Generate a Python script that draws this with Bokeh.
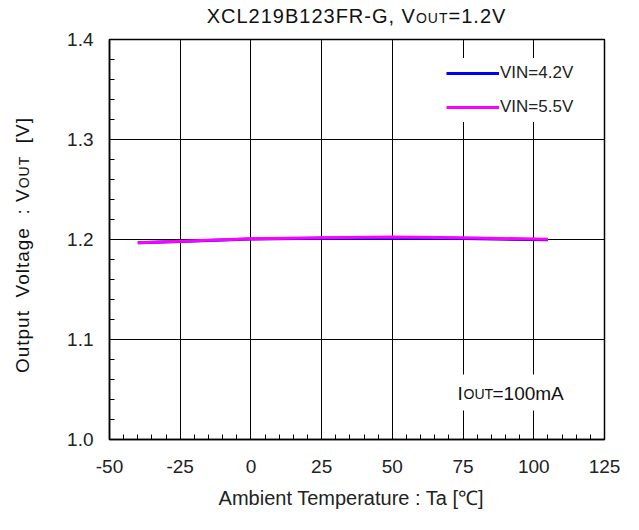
from bokeh.plotting import figure
from bokeh.models import (Range1d, FixedTicker, NumeralTickFormatter, Label,
                          Legend, LegendItem, Div)
from bokeh.layouts import column, row
from bokeh.embed import file_html
from bokeh.resources import INLINE

# ---- data ----
temps = [-40, -25, 0, 25, 50, 75, 105]
vout_vin42 = [1.1967, 1.1980, 1.2004, 1.2012, 1.2015, 1.2010, 1.1998]
vout_vin55 = [1.1967, 1.1982, 1.2007, 1.2017, 1.2025, 1.2017, 1.2002]
series_names = ["VIN=4.2V", "VIN=5.5V"]
series_colors = ["#0000FF", "#FF00FF"]
x_ticks = [-50, -25, 0, 25, 50, 75, 100, 125]
x_minor = [-45, -40, -35, -30, -20, -15, -10, -5, 5, 10, 15, 20, 30, 35, 40, 45,
           55, 60, 65, 70, 80, 85, 90, 95, 105, 110, 115, 120]
y_ticks = [1.0, 1.1, 1.2, 1.3, 1.4]
y_minor = [1.02, 1.04, 1.06, 1.08, 1.12, 1.14, 1.16, 1.18, 1.22, 1.24, 1.26, 1.28,
           1.32, 1.34, 1.36, 1.38]
title_parts = ["XCL219B123FR-G, V", "OUT", "=1.2V"]
ylabel_parts = ["Output  Voltage  : V", "OUT", "  [V]"]
xlabel = "Ambient  Temperature  : Ta [\u2103]"
cond_parts = ["I", "OUT", "=100mA"]

FONT = "Liberation Sans"

p = figure(width=599, height=497, output_backend="svg", toolbar_location=None,
           x_range=Range1d(-50, 125), y_range=Range1d(1.0, 1.4),
           min_border_left=69, min_border_right=35, min_border_top=9,
           min_border_bottom=88)
p.background_fill_color = "white"
p.border_fill_color = "white"
p.outline_line_color = "black"
p.outline_line_width = 1.5

p.xaxis.ticker = FixedTicker(ticks=x_ticks, minor_ticks=x_minor)
p.yaxis.ticker = FixedTicker(ticks=y_ticks, minor_ticks=y_minor)
p.xaxis.formatter = NumeralTickFormatter(format="0")
p.yaxis.formatter = NumeralTickFormatter(format="0.0")
for ax in (p.xaxis, p.yaxis):
    ax.axis_line_color = "black"
    ax.axis_line_width = 1.5
    ax.major_tick_in = 0
    ax.major_tick_out = 0
    ax.minor_tick_in = 5
    ax.minor_tick_out = 0
    ax.minor_tick_line_color = "black"
    ax.minor_tick_line_width = 1
    ax.major_label_text_font = FONT
    ax.major_label_text_font_size = "19px"
    ax.major_label_text_color = "#222222"
p.xaxis.major_label_standoff = 20
p.yaxis.major_label_standoff = 16
p.xaxis.axis_label = xlabel
p.xaxis.axis_label_text_font = FONT
p.xaxis.axis_label_text_font_size = "20px"
p.xaxis.axis_label_text_font_style = "normal"
p.xaxis.axis_label_text_color = "#222222"
p.xaxis.axis_label_standoff = 11

p.xgrid.grid_line_color = "black"
p.ygrid.grid_line_color = "black"
p.xgrid.grid_line_width = 1
p.ygrid.grid_line_width = 1

r1 = p.line(temps, vout_vin42, line_color=series_colors[0], line_width=3)
r2 = p.line(temps, vout_vin55, line_color=series_colors[1], line_width=3)

legend = Legend(items=[LegendItem(label=series_names[0], renderers=[r1]),
                       LegendItem(label=series_names[1], renderers=[r2])],
                location=(332, 317), orientation="vertical",
                background_fill_color="white", background_fill_alpha=1.0,
                border_line_alpha=0, padding=5, spacing=14, margin=0,
                glyph_width=53, glyph_height=20, label_height=20, label_standoff=1,
                label_text_font=FONT, label_text_font_size="17px",
                label_text_color="#222222")
p.add_layout(legend)

# white backing box behind the condition note (blank label)
backing = Label(x=-50, y=1.0, x_offset=346, y_offset=47, text="\u00a0" * 13,
                text_font=FONT, text_font_size="32px", text_align="left",
                text_baseline="middle", background_fill_color="white",
                background_fill_alpha=1.0)
p.add_layout(backing)

def add_label(text, xo, yo, size, align):
    lab = Label(x=-50, y=1.0, x_offset=xo, y_offset=yo, text=text,
                text_font=FONT, text_font_size=size, text_align=align,
                text_baseline="alphabetic", text_color="#111111")
    p.add_layout(lab)

add_label(cond_parts[0], 348, 46, "19px", "left")
add_label(cond_parts[1], 354, 46, "14px", "left")
add_label(cond_parts[2], 383, 46, "19px", "left")

sub = '<span style="font-size:14px">%s</span>'
title_html = ('<div style="margin-left:109px;width:495px;text-align:center;'
              'font-family:\'Liberation Sans\';font-size:20px;line-height:32px;'
              'letter-spacing:1px;color:#111;white-space:pre">%s%s%s</div>'
              % (title_parts[0], sub % title_parts[1], title_parts[2]))
title_div = Div(text=title_html, width=639, height=30, margin=0)

ylab_html = ('<div style="position:relative;width:40px;height:497px">'
             '<div style="position:absolute;left:13px;top:355px;width:280px;'
             'text-align:center;font-family:\'Liberation Sans\';font-size:19px;'
             'line-height:20px;letter-spacing:1px;color:#111;white-space:pre;'
             'transform-origin:0 0;transform:rotate(-90deg)">%s%s%s</div></div>'
             % (ylabel_parts[0], sub % ylabel_parts[1], ylabel_parts[2]))
ylab_div = Div(text=ylab_html, width=40, height=497, margin=0)

line_div = Div(text='<div style="width:639px;border-top:2px solid #c8c8c8"></div>',
               width=639, height=3, margin=0)

layout = column(row(ylab_div, p, spacing=0), spacing=0)
layout = column(title_div, row(ylab_div, p, spacing=0), line_div, spacing=0)
open("out.html", "w").write(file_html(layout, INLINE))
